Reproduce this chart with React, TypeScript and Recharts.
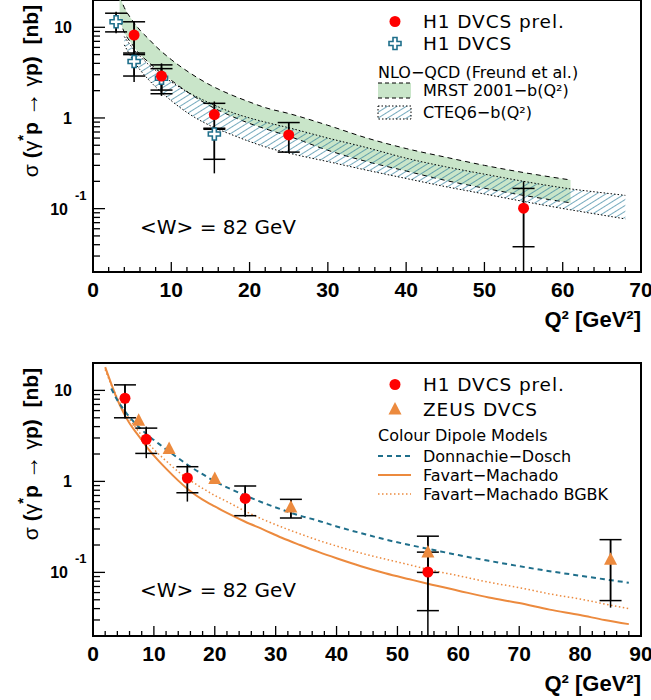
import React from 'react';
import { ComposedChart, Line, Area, Scatter, XAxis, YAxis, ErrorBar, ReferenceArea } from 'recharts';

const AXIS_FONT = '"Liberation Sans", Arial, Helvetica, sans-serif';
const TEXT_FONT = '"DejaVu Sans", sans-serif';
const TEAL = '#1f6f8b';
const ORANGE = '#ec8a3e';
const RED = '#ff0000';
const GREEN = '#c9e5c9';
const HATCH = '#2c7d9b';

// H1 DVCS preliminary (both panels)
const h1PrelQ2 = [5.25, 8.75, 15.5, 25, 55];
const h1PrelSigma = [8.2, 2.9, 1.09, 0.65, 0.101];
const h1PrelStatLo = [5.0, 2.03, 0.75, 0.42, 0.038];
const h1PrelStatHi = [11.5, 3.85, 1.45, 0.89, 0.167];
const h1PrelTotLo = [4.9, 1.8, 0.6, 0.41, 0.02];
const h1PrelTotHi = [11.6, 4.0, 1.52, 0.9, 0.2];

// H1 DVCS (published)
const h1Q2 = [2.95, 5.25, 8.75, 15.5];
const h1Sigma = [11.5, 4.2, 2.74, 0.665];
const h1StatLo = [8.9, 2.9, 1.85, 0.35];
const h1StatHi = [14.3, 5.2, 3.5, 0.77];
const h1TotLo = [8.6, 2.5, 1.75, 0.245];
const h1TotHi = [14.8, 5.4, 3.6, 0.8];

// ZEUS DVCS (errors of the first three points are hidden by the markers)
const zeusQ2 = [7.5, 12.5, 20, 32.5, 55, 85];
const zeusSigma = [4.65, 2.27, 1.06, 0.515, 0.165, 0.138];
const zeusStatLo = [4.65, 2.27, 1.06, 0.396, 0.1, 0.049];
const zeusStatHi = [4.65, 2.27, 1.06, 0.635, 0.25, 0.229];
const zeusTotLo = [4.65, 2.27, 1.06, 0.396, 0.08, 0.041];
const zeusTotHi = [4.65, 2.27, 1.06, 0.635, 0.25, 0.229];

// NLO-QCD bands (top panel)
const bandQ2 = [3.4, 4, 5, 6, 7, 8, 10, 12, 15, 18, 20, 22, 25, 30, 35, 40, 45, 50, 55, 61, 65, 68];
const mrstHigh = [22, 16.5, 12, 9.3, 7.6, 6.2, 4.4, 3.3, 2.3, 1.75, 1.5, 1.3, 1.12, 0.83, 0.6, 0.46, 0.37, 0.3, 0.25, 0.207, null, null];
const mrstLow = [12, 8.8, 6.5, 5.0, 4.2, 3.5, 2.6, 1.95, 1.35, 1.02, 0.87, 0.76, 0.63, 0.44, 0.33, 0.26, 0.205, 0.168, 0.14, 0.116, null, null];
const cteqHigh = [null, 7.9, 6.0, 4.8, 3.95, 3.35, 2.5, 1.95, 1.45, 1.13, 1.0, 0.9, 0.78, 0.6, 0.47, 0.36, 0.29, 0.24, 0.2, 0.165, 0.15, 0.14];
const cteqLow = [null, 6.4, 4.5, 3.4, 2.7, 2.2, 1.55, 1.15, 0.82, 0.64, 0.55, 0.48, 0.41, 0.33, 0.265, 0.215, 0.175, 0.145, 0.12, 0.097, 0.085, 0.077];

// colour dipole models (bottom panel)
const dipoleQ2 = [2, 3, 4, 5, 6, 7, 8, 9, 10, 12, 14, 16, 18, 20, 22, 25, 28, 31, 34, 37, 40, 44, 48, 52, 55, 60, 65, 70, 75, 80, 84, 88];
const donnachieDosch = [null, 10.5, 7.8, 6.2, 5.1, 4.3, 3.7, 3.2, 2.85, 2.25, 1.8, 1.45, 1.2, 1.0, 0.86, 0.7, 0.58, 0.49, 0.42, 0.37, 0.32, 0.27, 0.23, 0.2, 0.182, 0.155, 0.134, 0.117, 0.103, 0.092, 0.084, 0.077];
const favartMachado = [18, 11.8, 7.9, 5.7, 4.35, 3.5, 2.85, 2.3, 1.92, 1.38, 1.02, 0.78, 0.63, 0.53, 0.45, 0.36, 0.295, 0.24, 0.2, 0.168, 0.143, 0.117, 0.098, 0.084, 0.075, 0.063, 0.053, 0.046, 0.039, 0.034, 0.03, 0.027];
const favartBgbk = [17, 11.5, 8.3, 6.2, 4.85, 3.9, 3.2, 2.65, 2.25, 1.68, 1.28, 1.02, 0.84, 0.7, 0.6, 0.47, 0.38, 0.315, 0.265, 0.225, 0.195, 0.163, 0.14, 0.121, 0.108, 0.092, 0.078, 0.068, 0.058, 0.051, 0.045, 0.04];

const topXTicks = Array.from({ length: 36 }, (_, i) => i * 2);
const bottomXTicks = Array.from({ length: 46 }, (_, i) => i * 2);
const yTicks = [0.01, 0.1, 1, 10].flatMap((d) => [2, 3, 4, 5, 6, 7, 8, 9, 10].map((m) => d * m)).filter((v) => v <= 20.001);

function toRows(q2: number[], sigma: number[], statLo: number[], statHi: number[], totLo: number[], totHi: number[]) {
  return q2.map((q, i) => ({
    q2: q,
    sigma: sigma[i],
    stat: [sigma[i] - statLo[i], statHi[i] - sigma[i]],
    tot: [sigma[i] - totLo[i], totHi[i] - sigma[i]],
  }));
}

const h1PrelRows = toRows(h1PrelQ2, h1PrelSigma, h1PrelStatLo, h1PrelStatHi, h1PrelTotLo, h1PrelTotHi);
const h1Rows = toRows(h1Q2, h1Sigma, h1StatLo, h1StatHi, h1TotLo, h1TotHi);
const zeusRows = toRows(zeusQ2, zeusSigma, zeusStatLo, zeusStatHi, zeusTotLo, zeusTotHi);
const zeusErrRows = zeusRows.filter((r) => r.stat[1] > 0);

const bandRows = bandQ2.map((q, i) => ({
  q2: q,
  mrst: mrstLow[i] != null ? [mrstLow[i], mrstHigh[i]] : undefined,
  cteq: cteqLow[i] != null ? [cteqLow[i], cteqHigh[i]] : undefined,
}));

const dipoleRows = dipoleQ2.map((q, i) => ({
  q2: q,
  dd: donnachieDosch[i],
  fm: favartMachado[i],
  bgbk: favartBgbk[i],
}));

function renderXTick(props: any) {
  const { x, y, payload } = props;
  const v = payload.value;
  const major = v % 10 === 0;
  return (
    <g>
      <line x1={x} x2={x} y1={y} y2={y - (major ? 10 : 5)} stroke="#000" strokeWidth={1.3} />
      {major && (
        <text x={x} y={y + 25} textAnchor="middle" fontSize={21} fontWeight="bold" fontFamily={AXIS_FONT} fill="#000">
          {v}
        </text>
      )}
    </g>
  );
}

function renderYTick(props: any) {
  const { x, y, payload } = props;
  const lg = Math.log10(payload.value);
  const major = Math.abs(lg - Math.round(lg)) < 1e-6;
  const p = Math.round(lg);
  let label = null;
  if (major && p === 1) {
    label = <text x={x - 21} y={y + 6} textAnchor="end" fontSize={16} fontWeight="bold" fontFamily={AXIS_FONT}>10</text>;
  } else if (major && p === 0) {
    label = <text x={x - 21} y={y + 6} textAnchor="end" fontSize={16} fontWeight="bold" fontFamily={AXIS_FONT}>1</text>;
  } else if (major && p === -1) {
    label = (
      <g>
        <text x={x - 25} y={y + 6} textAnchor="end" fontSize={16} fontWeight="bold" fontFamily={AXIS_FONT}>10</text>
        <text x={x - 18} y={y - 9} textAnchor="start" fontSize={13} fontWeight="bold" fontFamily={AXIS_FONT}>-1</text>
      </g>
    );
  }
  return (
    <g>
      <line x1={x} x2={x + (major ? 12 : 7)} y1={y} y2={y} stroke="#000" strokeWidth={1.3} />
      {label}
    </g>
  );
}

function XTitle({ viewBox }: any) {
  return (
    <text x={viewBox.x + viewBox.width} y={viewBox.y + 55} textAnchor="end" fontSize={22} fontWeight="bold" fontFamily={AXIS_FONT} fill="#000">
      Q² [GeV²]
    </text>
  );
}

function YTitle({ viewBox }: any) {
  return (
    <text
      transform={`translate(38, ${viewBox.y + 91}) rotate(-90)`}
      textAnchor="middle"
      fontSize={21}
      fontWeight="bold"
      fontFamily={AXIS_FONT}
      fill="#000"
      style={{ whiteSpace: 'pre' }}
    >
      <tspan fontWeight="normal">σ</tspan>
      <tspan> (</tspan>
      <tspan fontWeight="normal">γ</tspan>
      <tspan dy={-10} fontSize={15}>*</tspan>
      <tspan dy={10}>p </tspan>
      <tspan fontWeight="normal" fontSize={24}>→</tspan>
      <tspan> </tspan>
      <tspan fontWeight="normal">γ</tspan>
      <tspan>p)  [nb]</tspan>
    </text>
  );
}

const RedDot = (p: any) => <circle cx={p.cx} cy={p.cy} r={5.5} fill={RED} />;
const NoShape = () => <g />;

function crossPath(cx: number, cy: number, s: number, a: number) {
  return `M${cx - a},${cy - s}H${cx + a}V${cy - a}H${cx + s}V${cy + a}H${cx + a}V${cy + s}H${cx - a}V${cy + a}H${cx - s}V${cy - a}H${cx - a}Z`;
}

const OpenCross = (p: any) => <path d={crossPath(p.cx, p.cy, 6, 2)} fill="#fff" stroke={TEAL} strokeWidth={1.6} />;

const Triangle = (p: any) => (
  <path d={`M${p.cx},${p.cy - 7.5}L${p.cx + 6.5},${p.cy + 5}L${p.cx - 6.5},${p.cy + 5}Z`} fill={ORANGE} />
);

function TopOverlay() {
  return (
    <svg width={651} height={340} style={{ position: 'absolute', left: 0, top: 0, pointerEvents: 'none' }} fontFamily={TEXT_FONT}>
      <defs>
        <pattern id="hatchLegend" width="5" height="5" patternUnits="userSpaceOnUse" patternTransform="rotate(58)">
          <line x1="0" y1="0" x2="0" y2="5" stroke={HATCH} strokeWidth="1.3" />
        </pattern>
      </defs>
      <circle cx={395} cy={21.5} r={5.5} fill={RED} />
      <text x={423} y={28} fontSize={18.5} letterSpacing={0.9}>H1 DVCS prel.</text>
      <path d={crossPath(395, 43.5, 6, 2)} fill="#fff" stroke={TEAL} strokeWidth={1.6} />
      <text x={423} y={50} fontSize={18.5} letterSpacing={0.9}>H1 DVCS</text>
      <text x={378} y={78} fontSize={16}>NLO−QCD (Freund et al.)</text>
      <rect x={378} y={83} width={33} height={15} fill={GREEN} />
      <line x1={378} x2={411} y1={83} y2={83} stroke="#000" strokeDasharray="4 3" />
      <line x1={378} x2={411} y1={98} y2={98} stroke="#000" strokeDasharray="4 3" />
      <text x={423} y={96} fontSize={16}>MRST 2001−b(Q²)</text>
      <rect x={378} y={106} width={33} height={13} fill="url(#hatchLegend)" stroke="#000" strokeDasharray="1.5 2" />
      <text x={423} y={118} fontSize={16}>CTEQ6−b(Q²)</text>
      <text x={140} y={234} fontSize={20}>&lt;W&gt; = 82 GeV</text>
    </svg>
  );
}

function BottomOverlay() {
  return (
    <svg width={651} height={360} style={{ position: 'absolute', left: 0, top: 0, pointerEvents: 'none' }} fontFamily={TEXT_FONT}>
      <circle cx={395} cy={44.5} r={5.5} fill={RED} />
      <text x={423} y={51} fontSize={18.5} letterSpacing={0.9}>H1 DVCS prel.</text>
      <path d={`M395,62L401.5,74.5L388.5,74.5Z`} fill={ORANGE} />
      <text x={423} y={76} fontSize={18.5} letterSpacing={0.9}>ZEUS DVCS</text>
      <text x={378} y={101} fontSize={16}>Colour Dipole Models</text>
      <line x1={378} x2={411} y1={116} y2={116} stroke={TEAL} strokeWidth={2} strokeDasharray="5 4" />
      <text x={423} y={122} fontSize={16}>Donnachie−Dosch</text>
      <line x1={378} x2={411} y1={135} y2={135} stroke={ORANGE} strokeWidth={2} />
      <text x={423} y={141} fontSize={16}>Favart−Machado</text>
      <line x1={378} x2={411} y1={154} y2={154} stroke={ORANGE} strokeWidth={1.5} strokeDasharray="1.5 2.5" />
      <text x={423} y={160} fontSize={16}>Favart−Machado BGBK</text>
      <text x={140} y={257} fontSize={20}>&lt;W&gt; = 82 GeV</text>
    </svg>
  );
}

export default function App() {
  return (
    <div style={{ position: 'absolute', left: 0, top: 0, width: 651, height: 700, background: '#fff' }}>
      <div style={{ position: 'relative', width: 651, height: 340 }}>
        <ComposedChart width={651} height={340} data={bandRows} margin={{ top: 0, right: 10, bottom: 0, left: 0 }}>
          <defs>
            <pattern id="hatchTop" width="5" height="5" patternUnits="userSpaceOnUse" patternTransform="rotate(58)">
              <line x1="0" y1="0" x2="0" y2="5" stroke={HATCH} strokeWidth="1.3" />
            </pattern>
          </defs>
          <XAxis
            type="number"
            dataKey="q2"
            domain={[0, 70]}
            ticks={topXTicks}
            interval={0}
            allowDataOverflow
            tickSize={0}
            tickMargin={0}
            tickLine={false}
            tick={renderXTick}
            height={68}
            axisLine={{ stroke: '#000', strokeWidth: 2 }}
            label={XTitle}
          />
          <YAxis
            type="number"
            scale="log"
            domain={[0.02, 20]}
            ticks={yTicks}
            interval={0}
            allowDataOverflow
            tickSize={0}
            tickMargin={0}
            tickLine={false}
            tick={renderYTick}
            width={93}
            axisLine={{ stroke: '#000', strokeWidth: 2 }}
            label={YTitle}
          />
          <ReferenceArea x1={0} x2={70} y1={0.02} y2={20} fill="none" stroke="#000" strokeWidth={2} />
          <Area dataKey="mrst" type="monotone" fill={GREEN} fillOpacity={1} stroke="#000" strokeWidth={1} strokeDasharray="5 4" isAnimationActive={false} />
          <Area dataKey="cteq" type="monotone" fill="url(#hatchTop)" fillOpacity={1} stroke="#000" strokeWidth={1} strokeDasharray="1.5 2" isAnimationActive={false} />
          <Scatter data={h1Rows} dataKey="sigma" shape={OpenCross} isAnimationActive={false}>
            <ErrorBar dataKey="tot" direction="y" width={0} stroke="#000" strokeWidth={1.5} />
            <ErrorBar dataKey="stat" direction="y" width={11} stroke="#000" strokeWidth={1.5} />
          </Scatter>
          <Scatter data={h1PrelRows} dataKey="sigma" shape={RedDot} isAnimationActive={false}>
            <ErrorBar dataKey="tot" direction="y" width={0} stroke="#000" strokeWidth={1.5} />
            <ErrorBar dataKey="stat" direction="y" width={11} stroke="#000" strokeWidth={1.5} />
          </Scatter>
        </ComposedChart>
        <TopOverlay />
      </div>
      <div style={{ position: 'relative', width: 651, height: 360 }}>
        <ComposedChart width={651} height={360} data={dipoleRows} margin={{ top: 23, right: 10, bottom: 0, left: 0 }}>
          <XAxis
            type="number"
            dataKey="q2"
            domain={[0, 90]}
            ticks={bottomXTicks}
            interval={0}
            allowDataOverflow
            tickSize={0}
            tickMargin={0}
            tickLine={false}
            tick={renderXTick}
            height={64}
            axisLine={{ stroke: '#000', strokeWidth: 2 }}
            label={XTitle}
          />
          <YAxis
            type="number"
            scale="log"
            domain={[0.02, 20]}
            ticks={yTicks}
            interval={0}
            allowDataOverflow
            tickSize={0}
            tickMargin={0}
            tickLine={false}
            tick={renderYTick}
            width={93}
            axisLine={{ stroke: '#000', strokeWidth: 2 }}
            label={YTitle}
          />
          <ReferenceArea x1={0} x2={90} y1={0.02} y2={20} fill="none" stroke="#000" strokeWidth={2} />
          <Line dataKey="fm" type="monotone" stroke={ORANGE} strokeWidth={2} dot={false} isAnimationActive={false} />
          <Line dataKey="bgbk" type="monotone" stroke={ORANGE} strokeWidth={1.5} strokeDasharray="1.5 2.5" dot={false} isAnimationActive={false} />
          <Line dataKey="dd" type="monotone" stroke={TEAL} strokeWidth={2} strokeDasharray="5 4" dot={false} isAnimationActive={false} />
          <Scatter data={zeusErrRows} dataKey="sigma" shape={NoShape} isAnimationActive={false}>
            <ErrorBar dataKey="tot" direction="y" width={0} stroke="#000" strokeWidth={1.5} />
            <ErrorBar dataKey="stat" direction="y" width={11} stroke="#000" strokeWidth={1.5} />
          </Scatter>
          <Scatter data={zeusRows} dataKey="sigma" shape={Triangle} isAnimationActive={false} />
          <Scatter data={h1PrelRows} dataKey="sigma" shape={RedDot} isAnimationActive={false}>
            <ErrorBar dataKey="tot" direction="y" width={0} stroke="#000" strokeWidth={1.5} />
            <ErrorBar dataKey="stat" direction="y" width={11} stroke="#000" strokeWidth={1.5} />
          </Scatter>
        </ComposedChart>
        <BottomOverlay />
      </div>
    </div>
  );
}
